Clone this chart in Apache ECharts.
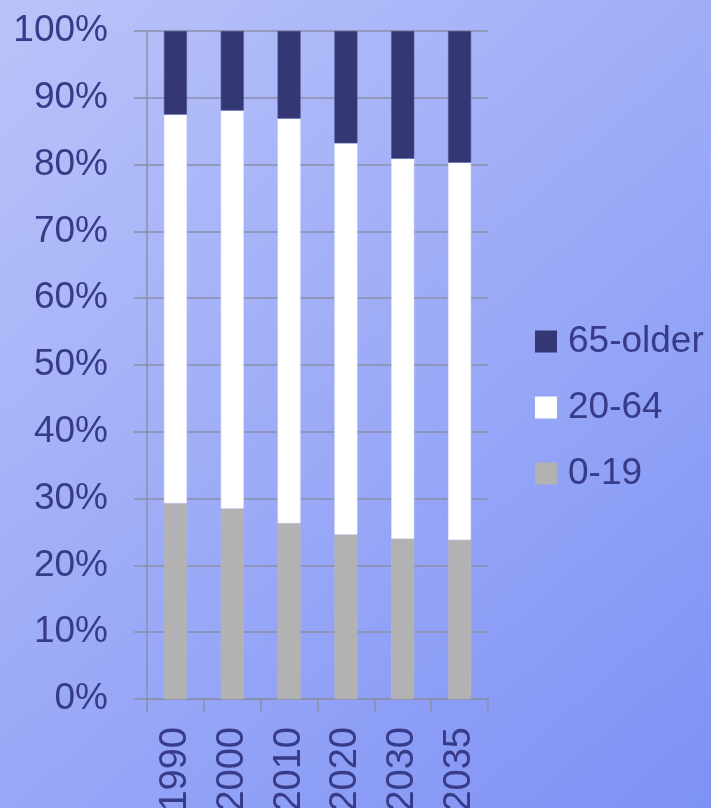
<!DOCTYPE html>
<html>
<head>
<meta charset="utf-8">
<script src="https://cdn.jsdelivr.net/npm/echarts@6/dist/echarts.min.js"></script>
<style>
  html, body { margin: 0; padding: 0; }
  #chart { width: 711px; height: 808px; }
</style>
</head>
<body>
<div id="chart"></div>
<script>
// Population share by age group, percent of total
const years = ['1990', '2000', '2010', '2020', '2030', '2035'];
const age0to19 = [29.3, 28.5, 26.3, 24.6, 24.0, 23.8];
const age20to64 = [58.2, 59.6, 60.6, 58.6, 56.9, 56.5];
const age65plus = [12.5, 11.9, 13.1, 16.8, 19.1, 19.7];
const seriesNames = ['0-19', '20-64', '65-older'];

const textColor = '#373b88';
const lineColor = '#8b8fa9';
const fontFamily = 'Liberation Sans, Arial, sans-serif';

const chart = echarts.init(document.getElementById('chart'));

function barSeries(name, values, color, border) {
  return {
    name: name,
    type: 'bar',
    stack: 'total',
    barWidth: 23,
    data: values,
    itemStyle: { color: color, borderColor: border, borderWidth: 0.6 },
    emphasis: { disabled: true }
  };
}

chart.setOption({
  animation: false,
  backgroundColor: new echarts.graphic.LinearGradient(0, 0, 1, 1, [
    { offset: 0, color: '#bac4f9' },
    { offset: 1, color: '#7e91f5' }
  ]),
  grid: {
    left: 147, top: 31, right: 223, bottom: 109,
    containLabel: false,
    outerBoundsMode: 'none'
  },
  legend: {
    orient: 'vertical',
    left: 535,
    top: 323,
    padding: 0,
    itemWidth: 22,
    itemHeight: 22,
    itemGap: 29,
    icon: 'rect',
    itemStyle: { borderWidth: 0 },
    data: ['65-older', '20-64', '0-19'],
    selectedMode: false,
    textStyle: {
      color: textColor,
      fontSize: 37,
      fontFamily: fontFamily,
      lineHeight: 37,
      padding: [0, 0, 0, 6]
    }
  },
  xAxis: {
    type: 'category',
    data: years,
    boundaryGap: true,
    axisLine: { show: true, lineStyle: { color: lineColor, width: 1.5 } },
    axisTick: { show: true, length: 13, inside: false, alignWithLabel: false, lineStyle: { color: lineColor, width: 1.5 } },
    axisLabel: {
      rotate: 90,
      margin: 28,
      color: textColor,
      fontSize: 38,
      fontFamily: fontFamily
    },
    splitLine: { show: false }
  },
  yAxis: {
    type: 'value',
    min: 0,
    max: 100,
    interval: 10,
    axisLine: { show: true, lineStyle: { color: lineColor, width: 1.5 } },
    axisTick: { show: true, length: 13, lineStyle: { color: lineColor, width: 1.5 } },
    axisLabel: {
      margin: 39,
      color: textColor,
      fontSize: 37,
      fontFamily: fontFamily,
      formatter: '{value}%'
    },
    splitLine: { show: true, lineStyle: { color: lineColor, width: 1.5 } }
  },
  series: [
    barSeries(seriesNames[0], age0to19, '#b2b2b2', '#b8b8c0'),
    barSeries(seriesNames[1], age20to64, '#ffffff', '#e6e8f6'),
    barSeries(seriesNames[2], age65plus, '#333773', '#4a4e90')
  ]
});
</script>
</body>
</html>
